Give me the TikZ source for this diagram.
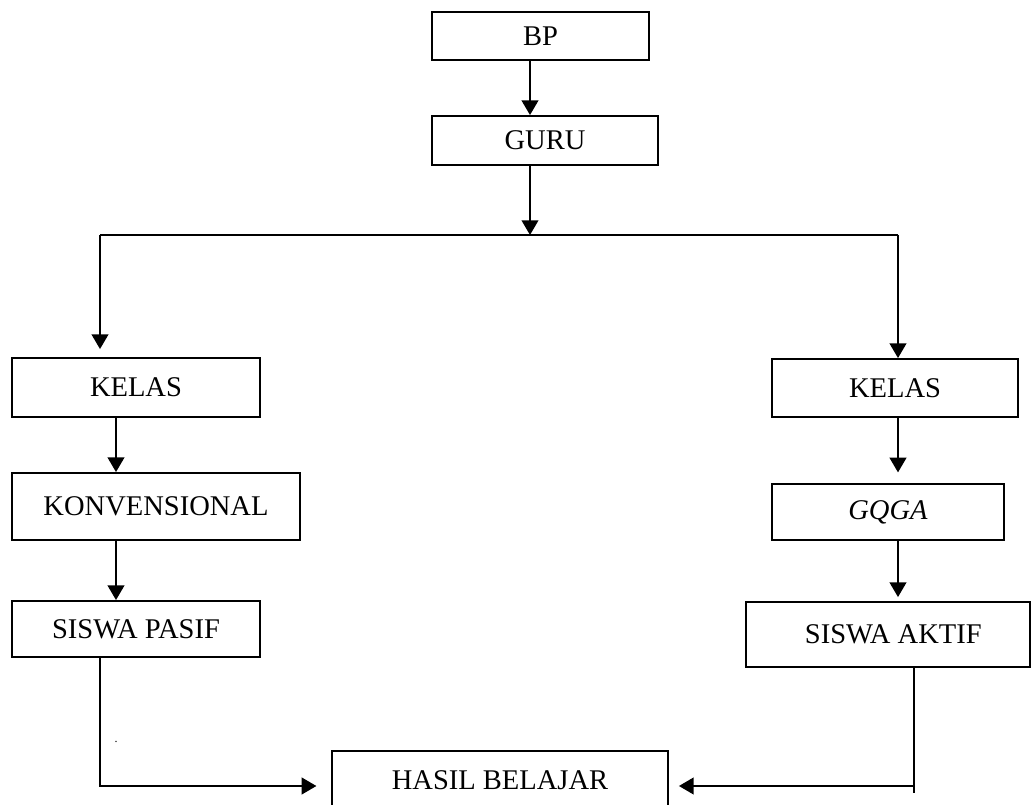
\documentclass[tikz,border=0pt]{standalone}
\usepackage{fontspec}
\setmainfont{Liberation Serif}
\usetikzlibrary{arrows.meta,positioning}

\begin{document}
\begin{tikzpicture}[x=0.75pt,y=-0.75pt,
		box/.style={draw,line width=1.4pt,inner sep=0pt,font=\fontsize{21.4}{25}\selectfont},
		link/.style={line width=1.4pt},
		arr/.style={link,-{Triangle[length=11pt,width=12.5pt]}}]
			\useasboundingbox (0,0) rectangle (1033,805);
			\clip (0,0) rectangle (1033,805);
			\node[box,minimum width=162.75pt,minimum height=36pt] (bp) at (540.5,36) {BP};
			\node[box,minimum width=169.5pt,minimum height=36.75pt] (guru) at (545,140.5) {GURU};
			\node[box,minimum width=186pt,minimum height=44.25pt] (kelasL) at (136,387.5) {KELAS};
			\node[box,minimum width=216pt,minimum height=50.25pt] (konv) at (156,506.5) {KONVENSIONAL};
			\node[box,minimum width=186pt,minimum height=42pt] (pasif) at (136,629) {SISWA PASIF};
			\node[box,minimum width=184.5pt,minimum height=43.5pt] (kelasR) at (895,388) {KELAS};
			\node[box,minimum width=174pt,minimum height=42pt] (gqga) at (888,512) {\itshape GQGA\hspace{16pt}};
			\node[box,minimum width=213pt,minimum height=48.75pt] (aktif) at (888,634.5) {\hspace{8pt}SISWA AKTIF};
			\node[box,minimum width=252pt,minimum height=44.25pt] (hasil) at (500,780.5) {HASIL BELAJAR};
			\node[font=\small,inner sep=0pt] (dot) at (116,742) {.};
			% branching points
			\coordinate (split) at (530,235);
			\coordinate (lturn) at (100,235);
			\coordinate (rturn) at (898,235);
			\coordinate (lcorner) at (100,786);
			\coordinate (rcorner) at (914,786);
			\coordinate (rtail) at (914,793);
			\draw[arr] (bp.south -| split) -- (guru.north -| split);
			\draw[arr] (guru.south -| split) -- (split);
			\draw[link] (lturn) -- (rturn);
			\draw[arr,shorten >=6pt] (lturn) -- (kelasL.north -| lturn);
			\draw[arr] (rturn) -- (kelasR.north -| rturn);
			\draw[arr] (kelasL.south -| 116,0) -- (konv.north -| 116,0);
			\draw[arr] (konv.south -| 116,0) -- (pasif.north -| 116,0);
			\draw[arr,shorten >=8pt] (kelasR.south -| rturn) -- (gqga.north -| rturn);
			\draw[arr,shorten >=3pt] (gqga.south -| rturn) -- (aktif.north -| rturn);
			\draw[arr,shorten >=11pt] (pasif.south -| lcorner) -- (lcorner) -- (lcorner -| hasil.west);
			\draw[link] (aktif.south -| rcorner) -- (rtail);
			\draw[arr,shorten >=7.5pt] (rcorner) -- (rcorner -| hasil.east);
		\end{tikzpicture}
\end{document}
